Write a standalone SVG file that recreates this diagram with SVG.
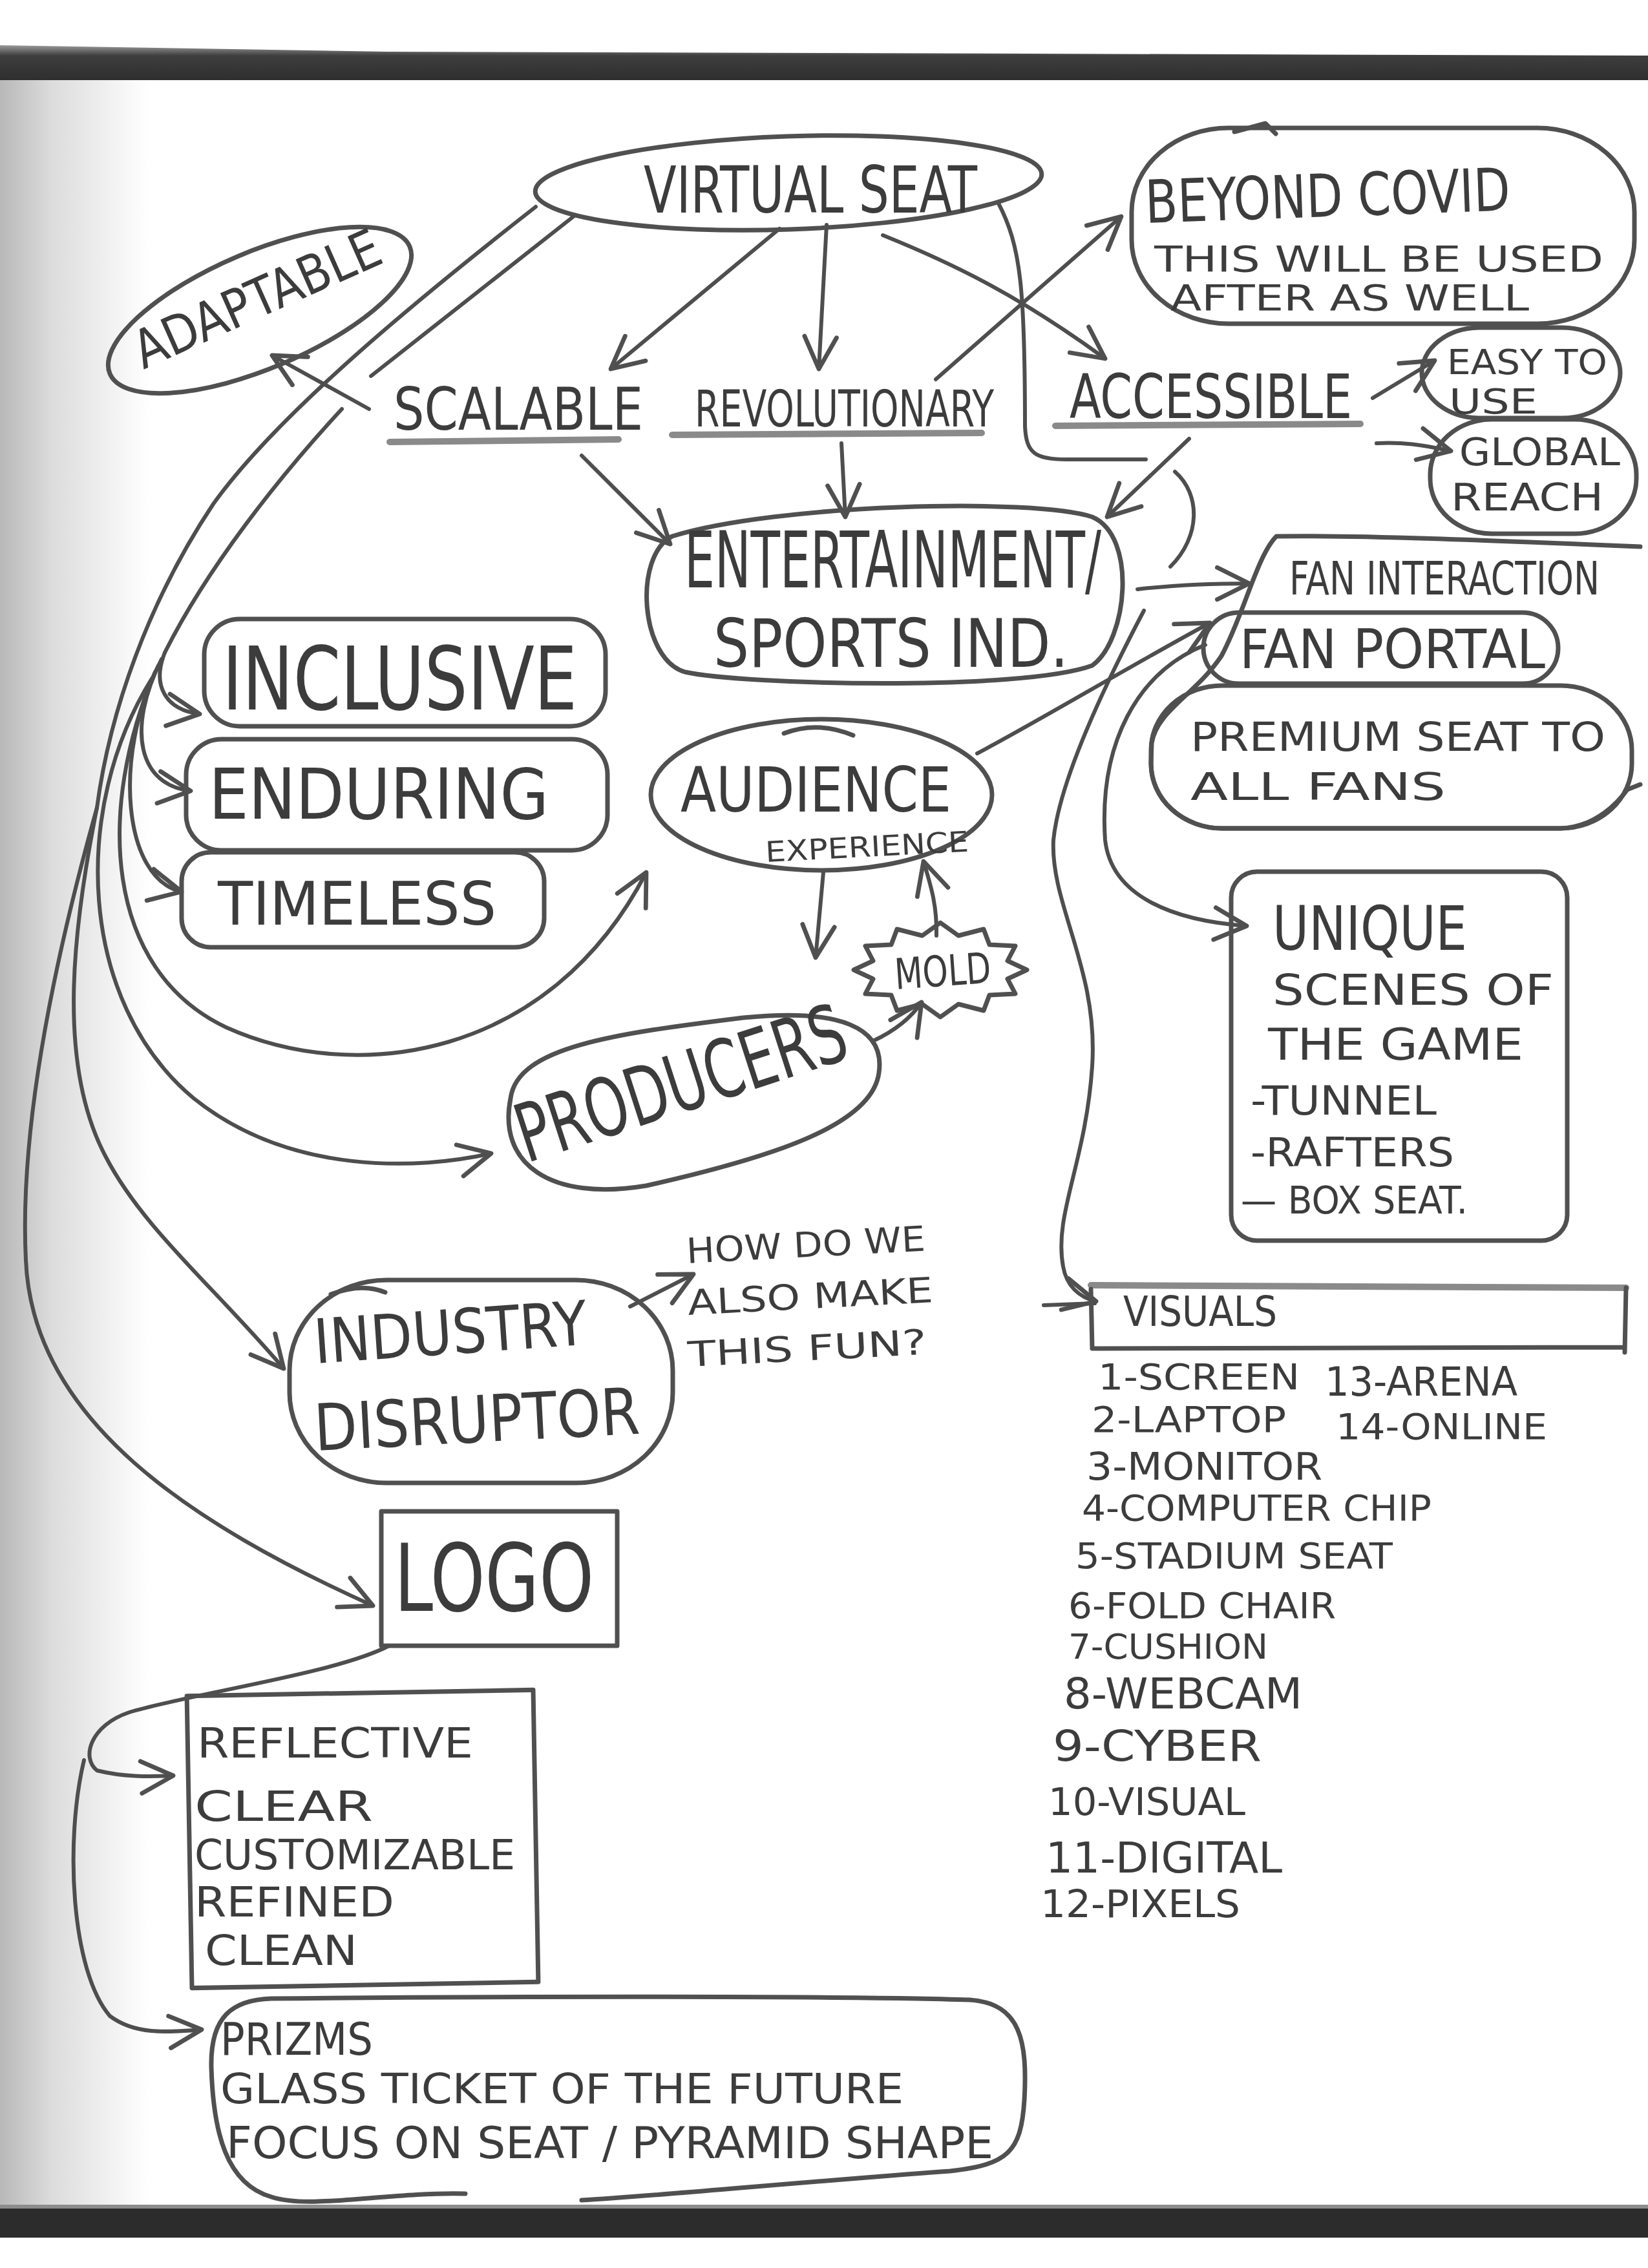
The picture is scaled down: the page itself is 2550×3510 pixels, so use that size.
<svg xmlns="http://www.w3.org/2000/svg" width="2550" height="3510" viewBox="0 0 2550 3510">
<defs>
<linearGradient id="gutter" x1="0" y1="0" x2="1" y2="0">
<stop offset="0" stop-color="#b8b8b8"/>
<stop offset="0.35" stop-color="#dcdcdc"/>
<stop offset="1" stop-color="#ffffff"/>
</linearGradient>
<linearGradient id="bandTop" x1="0" y1="0" x2="0" y2="1">
<stop offset="0" stop-color="#9a9a9a"/>
<stop offset="0.3" stop-color="#3e3e3e"/>
<stop offset="1" stop-color="#2e2e2e"/>
</linearGradient>
<marker id="ah" viewBox="0 0 20 20" refX="18" refY="10" markerWidth="62" markerHeight="62" markerUnits="userSpaceOnUse" orient="auto">
<path d="M2 2 L18 10 L2 18" fill="none" stroke="#505050" stroke-width="2.2" stroke-linecap="round" stroke-linejoin="round"/>
</marker>
</defs>
<style>
.o{fill:none;stroke:#505050;stroke-width:7;stroke-linecap:round;stroke-linejoin:round}
.c{fill:none;stroke:#4e4e4e;stroke-width:6;stroke-linecap:round;stroke-linejoin:round}
.ca{fill:none;stroke:#4e4e4e;stroke-width:6;stroke-linecap:round;stroke-linejoin:round;marker-end:url(#ah)}
.u{fill:none;stroke:#8a8a8a;stroke-width:10;stroke-linecap:round}
text{font-family:"Liberation Sans Narrow","DejaVu Sans Condensed","Liberation Sans",sans-serif;fill:#3c3c3c;}
</style>
<rect x="0" y="0" width="2550" height="3510" fill="#ffffff"/>
<rect x="0" y="120" width="230" height="3300" fill="url(#gutter)"/>
<path d="M0 70 L600 80 L2550 86 L2550 124 L0 124 Z" fill="url(#bandTop)"/>
<rect x="0" y="3417" width="2550" height="46" fill="#2c2c2c"/>
<rect x="0" y="3412" width="2550" height="6" fill="#8c8c8c"/>

<g id="connectors">
<path class="ca" d="M1206 354 L945 571"/>
<path class="ca" d="M1279 348 L1267 571"/>
<path class="ca" d="M1366 364 C1480 410 1580 460 1710 555"/>
<path class="c" d="M1544 313 C1580 380 1586 450 1586 660 C1588 700 1600 711 1650 711 L1773 711"/>
<path class="c" d="M1818 730 C1858 765 1858 830 1811 877"/>
<path class="ca" d="M1448 587 L1735 335"/>
<path class="ca" d="M2124 616 L2220 558"/>
<path class="ca" d="M2130 686 C2170 684 2200 688 2245 698"/>
<path class="ca" d="M571 633 L421 550"/>
<path class="ca" d="M900 705 L1037 842"/>
<path class="ca" d="M1302 686 L1308 800"/>
<path class="ca" d="M1840 679 L1713 800"/>
<path class="ca" d="M1760 912 C1820 905 1880 903 1933 903"/>
<path class="ca" d="M1512 1166 C1600 1120 1750 1030 1872 964"/>
<path class="ca" d="M1770 945 C1720 1040 1640 1200 1630 1300 C1625 1400 1700 1500 1690 1650 C1680 1800 1630 1880 1645 1960 C1650 1990 1670 2008 1696 2014"/>
<path class="c" d="M1615 2020 L1694 2017"/>
<path class="ca" d="M1865 998 C1760 1040 1700 1150 1710 1300 C1720 1390 1820 1425 1929 1433"/>
<path class="ca" d="M1274 1350 L1262 1482"/>
<path class="ca" d="M1449 1448 C1450 1400 1440 1370 1429 1333"/>
<path class="ca" d="M1351 1611 C1385 1595 1410 1575 1426 1551"/>
<path class="ca" d="M975 2022 L1073 1972"/>
<path class="c" d="M890 333 L574 582 M529 633 C430 740 320 880 255 1010"/>
<path class="ca" d="M255 1010 C235 1060 255 1098 309 1105"/>
<path class="ca" d="M250 1020 C195 1130 215 1215 295 1224"/>
<path class="ca" d="M245 1030 C175 1170 190 1360 281 1380"/>
<path class="ca" d="M240 1040 C150 1250 160 1500 350 1590 C550 1680 850 1640 1000 1350"/>
<path class="ca" d="M235 1050 C110 1250 120 1550 300 1700 C450 1820 650 1810 760 1785"/>
<path class="c" d="M829 320 C650 460 430 640 330 780 C230 930 170 1100 150 1250"/>
<path class="ca" d="M150 1250 C110 1450 90 1650 163 1789 C220 1900 330 1990 439 2118"/>
<path class="ca" d="M150 1250 C80 1500 30 1750 40 1950 C50 2200 300 2360 577 2485"/>
<path class="ca" d="M602 2547 C520 2590 300 2620 200 2650 C140 2670 125 2720 150 2740 C190 2750 230 2750 268 2748"/>
<path class="ca" d="M130 2724 C100 2850 110 3050 170 3120 C210 3150 260 3145 312 3141"/>
</g>

<g id="virtual-seat">
<ellipse class="o" cx="1220" cy="283" rx="392" ry="72" transform="rotate(-2 1220 283)"/>
<text x="996" y="329" font-size="100" textLength="516" lengthAdjust="spacingAndGlyphs">VIRTUAL SEAT</text>
</g>

<g id="beyond-covid">
<rect class="o" x="1751" y="198" width="778" height="303" rx="150" ry="130"/>
<path class="o" d="M1910 204 L1958 191 L1974 207"/>
<text x="1773" y="345" font-size="92" textLength="565" lengthAdjust="spacingAndGlyphs" transform="rotate(-2 1773 345)">BEYOND COVID</text>
<text x="1786" y="420" font-size="56" textLength="695" lengthAdjust="spacingAndGlyphs">THIS WILL BE USED</text>
<text x="1811" y="480" font-size="56" textLength="555" lengthAdjust="spacingAndGlyphs">AFTER AS WELL</text>
</g>

<g id="adaptable">
<ellipse class="o" cx="402" cy="480" rx="252" ry="90" transform="rotate(-23 402 480)"/>
<text x="222" y="572" font-size="82" textLength="410" lengthAdjust="spacingAndGlyphs" transform="rotate(-24 222 572)">ADAPTABLE</text>
</g>

<g id="scalable">
<text x="609" y="665" font-size="90" textLength="386" lengthAdjust="spacingAndGlyphs">SCALABLE</text>
<path class="u" d="M603 684 L957 680"/>
</g>

<g id="revolutionary">
<text x="1075" y="660" font-size="78" textLength="463" lengthAdjust="spacingAndGlyphs">REVOLUTIONARY</text>
<path class="u" d="M1040 673 L1519 670"/>
</g>

<g id="accessible">
<text x="1655" y="647" font-size="95" textLength="437" lengthAdjust="spacingAndGlyphs">ACCESSIBLE</text>
<path class="u" d="M1633 659 L2105 656"/>
</g>

<g id="easy-to-use">
<rect class="o" x="2200" y="507" width="307" height="140" rx="90" ry="70"/>
<text x="2239" y="579" font-size="54" textLength="248" lengthAdjust="spacingAndGlyphs">EASY TO</text>
<text x="2242" y="640" font-size="54" textLength="137" lengthAdjust="spacingAndGlyphs">USE</text>
</g>

<g id="global-reach">
<rect class="o" x="2213" y="649" width="319" height="177" rx="95" ry="85"/>
<text x="2258" y="720" font-size="58" textLength="249" lengthAdjust="spacingAndGlyphs">GLOBAL</text>
<text x="2245" y="790" font-size="58" textLength="236" lengthAdjust="spacingAndGlyphs">REACH</text>
</g>

<g id="entertainment">
<path class="o" d="M1040 830 C1200 780 1600 770 1690 800 C1760 830 1745 990 1690 1030 C1580 1070 1150 1060 1060 1040 C990 1020 980 860 1040 830 Z"/>
<text x="1059" y="909" font-size="122" textLength="645" lengthAdjust="spacingAndGlyphs">ENTERTAINMENT/</text>
<text x="1104" y="1032" font-size="104" textLength="549" lengthAdjust="spacingAndGlyphs">SPORTS IND.</text>
</g>

<g id="fan-interaction-outline">
<path class="o" d="M2538 846 C2300 836 2100 828 1975 830 C1945 860 1925 950 1890 1015 C1850 1075 1790 1100 1782 1150 L1781 1182 A110 100 0 0 0 1891 1282 L2415 1282 C2470 1280 2505 1240 2518 1222 L2538 1214"/>
</g>

<g id="fan-interaction">
<text x="1995" y="920" font-size="72" textLength="480" lengthAdjust="spacingAndGlyphs">FAN INTERACTION</text>
</g>

<g id="fan-portal">
<rect class="o" x="1862" y="948" width="549" height="110" rx="55" ry="55"/>
<text x="1918" y="1034" font-size="84" textLength="473" lengthAdjust="spacingAndGlyphs">FAN PORTAL</text>
</g>

<g id="premium-seat">
<rect class="o" x="1781" y="1061" width="744" height="221" rx="110" ry="100"/>
<text x="1842" y="1162" font-size="62" textLength="642" lengthAdjust="spacingAndGlyphs">PREMIUM SEAT TO</text>
<text x="1842" y="1238" font-size="58" textLength="395" lengthAdjust="spacingAndGlyphs">ALL FANS</text>
</g>

<g id="inclusive">
<rect class="o" x="316" y="958" width="621" height="166" rx="55" ry="55"/>
<text x="344" y="1098" font-size="135" textLength="549" lengthAdjust="spacingAndGlyphs">INCLUSIVE</text>
</g>

<g id="enduring">
<rect class="o" x="288" y="1144" width="652" height="172" rx="55" ry="55"/>
<text x="323" y="1267" font-size="108" textLength="526" lengthAdjust="spacingAndGlyphs">ENDURING</text>
</g>

<g id="timeless">
<rect class="o" x="281" y="1319" width="561" height="147" rx="45" ry="45"/>
<text x="337" y="1431" font-size="92" textLength="431" lengthAdjust="spacingAndGlyphs">TIMELESS</text>
</g>

<g id="audience-experience">
<ellipse class="o" cx="1271" cy="1230" rx="264" ry="117"/>
<path class="o" d="M1213 1135 Q1265 1115 1320 1138"/>
<text x="1053" y="1256" font-size="96" textLength="419" lengthAdjust="spacingAndGlyphs">AUDIENCE</text>
<text x="1185" y="1334" font-size="44" textLength="315" lengthAdjust="spacingAndGlyphs" transform="rotate(-3 1185 1334)">EXPERIENCE</text>
</g>

<g id="mold">
<polygon class="o" points="1589,1501 1559,1515 1571,1538 1531,1540 1522,1564 1483,1554 1455,1574 1427,1554 1388,1564 1379,1540 1339,1538 1351,1515 1321,1501 1351,1487 1339,1464 1379,1462 1388,1438 1427,1448 1455,1428 1483,1448 1522,1438 1531,1462 1571,1464 1559,1487"/>
<text x="1386" y="1531" font-size="66" textLength="149" lengthAdjust="spacingAndGlyphs" transform="rotate(-4 1386 1531)">MOLD</text>
</g>

<g id="producers">
<path class="o" d="M790 1700 C800 1620 950 1600 1150 1575 C1300 1560 1370 1590 1360 1660 C1350 1740 1200 1790 1000 1835 C850 1860 770 1800 790 1700 Z"/>
<text x="815" y="1800" font-size="125" textLength="530" lengthAdjust="spacingAndGlyphs" transform="rotate(-18 815 1800)">PRODUCERS</text>
</g>

<g id="unique-scenes">
<rect class="o" x="1905" y="1349" width="520" height="571" rx="40" ry="40"/>
<text x="1969" y="1470" font-size="95" textLength="301" lengthAdjust="spacingAndGlyphs">UNIQUE</text>
<text x="1969" y="1555" font-size="66" textLength="435" lengthAdjust="spacingAndGlyphs">SCENES OF</text>
<text x="1962" y="1640" font-size="68" textLength="395" lengthAdjust="spacingAndGlyphs">THE GAME</text>
<text x="1935" y="1725" font-size="62" textLength="288" lengthAdjust="spacingAndGlyphs">-TUNNEL</text>
<text x="1935" y="1805" font-size="62" textLength="315" lengthAdjust="spacingAndGlyphs">-RAFTERS</text>
<text x="1920" y="1878" font-size="58" textLength="351" lengthAdjust="spacingAndGlyphs">— BOX SEAT.</text>
</g>

<g id="visuals">
<path class="u" d="M1688 1989 L2516 1993"/>
<path class="o" d="M1688 1995 L1690 2087 L2512 2085 M2516 1993 L2514 2093"/>
<text x="1738" y="2052" font-size="64" textLength="238" lengthAdjust="spacingAndGlyphs">VISUALS</text>
</g>

<g id="visuals-list">
<text x="1699" y="2150" font-size="56" textLength="312" lengthAdjust="spacingAndGlyphs">1-SCREEN</text>
<text x="2050" y="2160" font-size="62" textLength="298" lengthAdjust="spacingAndGlyphs">13-ARENA</text>
<text x="1689" y="2216" font-size="56" textLength="301" lengthAdjust="spacingAndGlyphs">2-LAPTOP</text>
<text x="2067" y="2227" font-size="56" textLength="327" lengthAdjust="spacingAndGlyphs">14-ONLINE</text>
<text x="1681" y="2290" font-size="58" textLength="365" lengthAdjust="spacingAndGlyphs">3-MONITOR</text>
<text x="1674" y="2353" font-size="56" textLength="541" lengthAdjust="spacingAndGlyphs">4-COMPUTER CHIP</text>
<text x="1664" y="2427" font-size="56" textLength="491" lengthAdjust="spacingAndGlyphs">5-STADIUM SEAT</text>
<text x="1653" y="2504" font-size="56" textLength="414" lengthAdjust="spacingAndGlyphs">6-FOLD CHAIR</text>
<text x="1653" y="2567" font-size="54" textLength="309" lengthAdjust="spacingAndGlyphs">7-CUSHION</text>
<text x="1646" y="2644" font-size="66" textLength="369" lengthAdjust="spacingAndGlyphs">8-WEBCAM</text>
<text x="1629" y="2725" font-size="66" textLength="323" lengthAdjust="spacingAndGlyphs">9-CYBER</text>
<text x="1622" y="2809" font-size="58" textLength="305" lengthAdjust="spacingAndGlyphs">10-VISUAL</text>
<text x="1618" y="2898" font-size="66" textLength="366" lengthAdjust="spacingAndGlyphs">11-DIGITAL</text>
<text x="1610" y="2967" font-size="58" textLength="309" lengthAdjust="spacingAndGlyphs">12-PIXELS</text>
</g>

<g id="how-fun">
<text x="1063" y="1955" font-size="54" textLength="370" lengthAdjust="spacingAndGlyphs" transform="rotate(-3 1063 1955)">HOW DO WE</text>
<text x="1065" y="2035" font-size="54" textLength="380" lengthAdjust="spacingAndGlyphs" transform="rotate(-3 1065 2035)">ALSO MAKE</text>
<text x="1065" y="2115" font-size="54" textLength="370" lengthAdjust="spacingAndGlyphs" transform="rotate(-3 1065 2115)">THIS FUN?</text>
</g>

<g id="industry-disruptor">
<rect class="o" x="448" y="1981" width="593" height="314" rx="150" ry="140"/>
<path class="o" d="M512 2003 Q560 1985 596 2000"/>
<text x="488" y="2110" font-size="95" textLength="423" lengthAdjust="spacingAndGlyphs" transform="rotate(-4 488 2110)">INDUSTRY</text>
<text x="488" y="2245" font-size="100" textLength="504" lengthAdjust="spacingAndGlyphs" transform="rotate(-3 488 2245)">DISRUPTOR</text>
</g>

<g id="logo">
<rect class="o" x="590" y="2339" width="365" height="208"/>
<text x="610" y="2493" font-size="145" textLength="309" lengthAdjust="spacingAndGlyphs">LOGO</text>
</g>

<g id="logo-qualities">
<rect class="o" x="293" y="2620" width="536" height="452" transform="rotate(-1 561 2846)"/>
<text x="305" y="2720" font-size="64" textLength="427" lengthAdjust="spacingAndGlyphs">REFLECTIVE</text>
<text x="301" y="2818" font-size="64" textLength="276" lengthAdjust="spacingAndGlyphs">CLEAR</text>
<text x="301" y="2893" font-size="64" textLength="496" lengthAdjust="spacingAndGlyphs">CUSTOMIZABLE</text>
<text x="301" y="2966" font-size="64" textLength="309" lengthAdjust="spacingAndGlyphs">REFINED</text>
<text x="317" y="3041" font-size="64" textLength="236" lengthAdjust="spacingAndGlyphs">CLEAN</text>
</g>

<g id="prizms">
<path class="o" d="M420 3093 C700 3090 1300 3088 1500 3095 C1580 3100 1590 3160 1585 3250 C1580 3330 1560 3350 1470 3360 C1200 3380 1000 3400 900 3405 M720 3395 C600 3392 480 3420 420 3400 C350 3380 330 3300 327 3200 C325 3120 360 3095 420 3093"/>
<text x="341" y="3180" font-size="70" textLength="236" lengthAdjust="spacingAndGlyphs">PRIZMS</text>
<text x="341" y="3255" font-size="64" textLength="1057" lengthAdjust="spacingAndGlyphs">GLASS TICKET OF THE FUTURE</text>
<text x="350" y="3340" font-size="68" textLength="1187" lengthAdjust="spacingAndGlyphs">FOCUS ON SEAT / PYRAMID SHAPE</text>
</g>
</svg>
